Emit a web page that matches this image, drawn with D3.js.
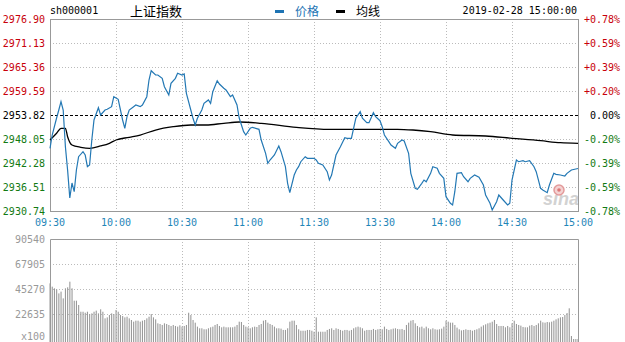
<!DOCTYPE html>
<html>
<head>
<meta charset="utf-8">
<script src="https://cdn.jsdelivr.net/npm/d3@7"></script>
<style>
  body { margin: 0; background: #fff; }
  svg { display: block; }
  text { font-family: "DejaVu Sans Mono", monospace; font-size: 10px; }
</style>
</head>
<body>
<svg id="chart" width="625" height="342"></svg>
<script>
// price minute offsets from 09:30 (0..240, lunch break removed)
let priceMin = [0,1,3,4,5,6,7,8,9,10,11,12,13,15,16,17,18,19,20,22,23,25,26,28,29,31,33,34,35,36,38,39,41,42,44,45,46,48,49,51,52,54,55,57,58,60,61,62,64,65,66,67,69,70,72,73,74,76,77,79,80,82,83,85,86,88,89,91,92,95,96,98,99,100,102,104,105,107,108,109,111,112,113,114,116,117,120,121,122,124,126,127,128,129,130,132,134,135,137,138,139,141,142,144,145,147,148,150,151,152,154,155,157,158,160,161,163,164,166,167,169,170,171,173,174,176,177,179,180,182,183,184,185,187,188,190,191,193,195,197,198,200,201,203,204,206,208,209,210,212,213,215,216,218,220,221,223,224,226,227,229,230,232,234,235,237,239,240]
let price = [2945.81,2949.01,2953.10,2955.02,2957.02,2955.02,2946.20,2940.60,2933.87,2937.47,2935.38,2940.60,2943.79,2945.00,2944.20,2941.39,2941.80,2947.81,2952.62,2955.57,2953.82,2955.02,2955.19,2955.82,2958.22,2957.59,2952.62,2950.62,2953.41,2955.02,2955.82,2956.22,2955.82,2956.22,2958.22,2962.23,2964.47,2963.44,2963.44,2962.64,2960.62,2958.63,2961.44,2962.64,2963.85,2963.44,2963.68,2959.04,2955.02,2953.03,2951.42,2953.03,2955.02,2956.63,2957.43,2956.63,2959.42,2962.07,2961.27,2960.24,2959.83,2958.22,2958.63,2956.22,2953.10,2949.81,2949.01,2950.62,2950.86,2950.38,2947.81,2944.61,2942.21,2943.00,2944.20,2946.37,2945.00,2941.39,2937.40,2935.14,2939.39,2940.60,2941.39,2942.59,2943.79,2943.41,2943.41,2943.00,2942.21,2941.80,2940.19,2938.19,2939.39,2941.80,2944.20,2946.20,2948.36,2948.22,2948.22,2950.62,2953.03,2954.61,2953.03,2951.97,2951.97,2954.37,2953.41,2952.45,2951.01,2949.01,2947.40,2946.61,2945.81,2947.02,2947.81,2947.57,2944.61,2939.80,2936.20,2935.96,2937.40,2938.19,2937.78,2939.80,2941.39,2941.01,2939.80,2938.60,2934.18,2932.59,2932.18,2935.38,2939.80,2939.95,2938.99,2937.78,2938.60,2939.40,2938.84,2936.99,2934.59,2932.59,2930.98,2932.98,2934.59,2933.38,2932.18,2932.59,2938.19,2943.00,2942.59,2942.83,2942.59,2942.83,2941.39,2940.19,2936.20,2935.79,2935.14,2936.99,2939.80,2939.56,2939.40,2939.16,2939.80,2940.60,2940.84,2940.96]

// average price line
let avgMin = [0,3,5,7,8,10,14,18,23,27,30,36,41,48,56,64,71,79,86,96,112,127,142,158,165,173,183,198,210,223,232,240]
let avgPrice = [2947.81,2949.42,2950.62,2950.62,2948.60,2946.61,2946.06,2945.81,2946.37,2947.02,2947.81,2948.46,2949.01,2950.21,2951.01,2951.42,2951.42,2951.83,2952.14,2951.83,2950.86,2950.38,2950.38,2950.38,2950.21,2949.81,2949.01,2948.77,2948.22,2947.64,2947.16,2947.02]

// volume per minute (x100)
let volume = [
  50400,47400,45900,45000,41300,42900,36800,45900,46800,51900,
  45900,34700,34700,30800,24700,24700,23800,24700,22600,23200,
  24700,25700,23200,26900,24700,18700,19600,21700,23200,22600,
  26300,24700,21700,20800,19600,20200,18700,17200,15700,16600,
  16600,15700,16600,17200,18700,20200,22600,19600,17800,14200,
  13600,12700,14200,13600,12700,11800,12700,11800,11200,12400,
  11200,11800,12700,23800,21700,17200,14800,11200,9700,9700,
  8800,8800,9700,10600,11200,12700,13600,11800,10600,11200,
  10600,10600,10600,10600,11200,12700,15700,15400,12700,11200,
  10600,9700,10600,11200,10900,12700,13600,16600,17200,14800,
  13600,12700,11200,9700,9700,9400,8200,8200,9700,15700,
  16600,16600,12700,8800,7500,7500,7500,8200,8200,7500,
  6600,19600,6600,6600,6600,6600,8200,9100,9700,8200,
  9700,9100,8200,7500,8200,8200,7500,8200,9700,10600,
  11200,10600,9700,7500,8200,8200,8200,9100,8200,8800,
  9100,8800,11200,9100,8200,8800,9400,9700,9100,8800,
  9100,8200,12700,14800,16600,17200,14200,11800,10600,11200,
  9700,11200,9700,8800,9700,8800,8500,8800,9400,11200,
  16600,15700,14800,14800,12700,10300,8800,7800,8200,8800,
  8200,8200,7500,8200,8800,9700,11200,12400,13300,14200,
  14800,15700,17200,13600,11800,11800,11800,10600,11800,10600,
  14200,16600,13600,12700,12100,10900,10600,10600,12100,12700,
  11800,12700,14200,16600,15100,14800,15400,15100,15700,16600,
  17800,18700,19600,19900,21700,23500,27800,2700,0,0,
  0
]

let prevClose = 2953.82
let priceTicks = [2976.90, 2971.13, 2965.36, 2959.59, 2953.82, 2948.05, 2942.28, 2936.51, 2930.74]
let pctTicks = ["+0.78%", "+0.59%", "+0.39%", "+0.20%", "0.00%", "-0.20%", "-0.39%", "-0.59%", "-0.78%"]
let timeTicks = ["09:30", "10:00", "10:30", "11:00", "11:30", "13:30", "14:00", "14:30", "15:00"]
let volTicks = [90540, 67905, 45270, 22635]

let left = 50, right = 578
let svg = d3.select("#chart")

let x = d3.scaleLinear().domain([0, 240]).range([left, right])
let y = d3.scaleLinear().domain([2930.74, 2976.90]).range([211, 19])
let yv = d3.scaleLinear().domain([0, 90540]).range([339, 239])
let xt = d3.scalePoint().domain(timeTicks).range([left, right])

let colorOf = v => v > prevClose + 0.001 ? "#c8000a" : (v < prevClose - 0.001 ? "#127a12" : "#000")
let cjk = "'Noto Sans CJK SC', sans-serif"

// ---- header
svg.append("text").attr("x", 50).attr("y", 14).text("sh000001")
svg.append("text").attr("x", 130).attr("y", 16)
  .style("font-family", cjk).style("font-size", "13px").text("上证指数")
svg.append("rect").attr("x", 275).attr("y", 10).attr("width", 9).attr("height", 3).attr("fill", "#1e74b4")
svg.append("text").attr("x", 295).attr("y", 16)
  .style("font-family", cjk).style("font-size", "12px").attr("fill", "#1e74b4").text("价格")
svg.append("rect").attr("x", 336).attr("y", 10).attr("width", 9).attr("height", 3).attr("fill", "#000")
svg.append("text").attr("x", 356).attr("y", 16)
  .style("font-family", cjk).style("font-size", "12px").text("均线")
svg.append("text").attr("x", 577).attr("y", 14).attr("text-anchor", "end").text("2019-02-28 15:00:00")

// ---- price grid
let g = svg.append("g")
g.selectAll(".vgrid").data(timeTicks.slice(1, -1)).enter().append("line")
  .attr("x1", d => xt(d) + 0.5).attr("x2", d => xt(d) + 0.5)
  .attr("y1", 19).attr("y2", 211)
  .attr("stroke", "#bbb").attr("stroke-dasharray", "1,2")
g.selectAll(".hgrid").data(priceTicks.slice(1, -1)).enter().append("line")
  .attr("x1", left).attr("x2", right)
  .attr("y1", d => Math.round(y(d)) + 0.5).attr("y2", d => Math.round(y(d)) + 0.5)
  .attr("stroke", d => d == prevClose ? "#000" : "#bbb")
  .attr("stroke-dasharray", d => d == prevClose ? "3,2" : "1,2")

// watermark
svg.append("text").attr("x", 543).attr("y", 205)
  .style("font-family", "'Liberation Sans', sans-serif").style("font-size", "18px")
  .style("font-weight", "bold").style("font-style", "italic")
  .attr("fill", "#d2d2d2").text("sina")
svg.append("circle").attr("cx", 559).attr("cy", 190).attr("r", 5)
  .attr("fill", "#f3d2d2").attr("stroke", "#e39a9a").attr("stroke-width", 1.5)
svg.append("circle").attr("cx", 559).attr("cy", 190).attr("r", 1.8).attr("fill", "#d77")

// frame
svg.append("rect").attr("x", left + 0.5).attr("y", 19.5).attr("width", right - left).attr("height", 192)
  .attr("fill", "none").attr("stroke", "#999")

// lines
let avgLine = d3.line().x(d => x(d[0])).y(d => y(d[1])).curve(d3.curveMonotoneX)
svg.append("path").datum(d3.zip(avgMin, avgPrice)).attr("d", avgLine)
  .attr("fill", "none").attr("stroke", "#000").attr("stroke-width", 1.3)

let priceLine = d3.line().x(d => x(d[0])).y(d => y(d[1]))
svg.append("path").datum(d3.zip(priceMin, price)).attr("d", priceLine)
  .attr("fill", "none").attr("stroke", "#2378b4").attr("stroke-width", 1.2)

// left and right labels
svg.selectAll(".plab").data(priceTicks).enter().append("text")
  .attr("x", 45).attr("y", d => y(d) + 3.5).attr("text-anchor", "end")
  .attr("fill", colorOf).text(d => d.toFixed(2))
svg.selectAll(".pct").data(pctTicks).enter().append("text")
  .attr("x", 620).attr("y", (d, i) => y(priceTicks[i]) + 3.5).attr("text-anchor", "end")
  .attr("fill", (d, i) => colorOf(priceTicks[i])).text(d => d)

// time labels
svg.selectAll(".tlab").data(timeTicks).enter().append("text")
  .attr("x", d => xt(d)).attr("y", 226).attr("text-anchor", "middle")
  .attr("fill", "#1f86b8").text(d => d)

// ---- volume panel
svg.selectAll(".vvg").data(timeTicks.slice(1, -1)).enter().append("line")
  .attr("x1", d => xt(d) + 0.5).attr("x2", d => xt(d) + 0.5)
  .attr("y1", 239).attr("y2", 342)
  .attr("stroke", "#bbb").attr("stroke-dasharray", "1,2")
svg.selectAll(".vhg").data(volTicks.slice(1)).enter().append("line")
  .attr("x1", left).attr("x2", right)
  .attr("y1", d => Math.round(yv(d)) + 0.5).attr("y2", d => Math.round(yv(d)) + 0.5)
  .attr("stroke", "#bbb").attr("stroke-dasharray", "1,2")

svg.selectAll(".bar").data(volume).enter().append("rect")
  .attr("x", (d, i) => x(i) - 0.5).attr("width", 1.1)
  .attr("y", d => yv(d)).attr("height", d => yv(0) - yv(d) + 4)
  .attr("fill", "#9a9a9a")

svg.append("path").attr("d", `M${left + 0.5},342V239.5H${right + 0.5}V342`)
  .attr("fill", "none").attr("stroke", "#999")

svg.selectAll(".vlab").data(volTicks).enter().append("text")
  .attr("x", 45).attr("y", d => yv(d) + 3.5).attr("text-anchor", "end")
  .attr("fill", "#999").text(d => d)
svg.append("text").attr("x", 45).attr("y", 340).attr("text-anchor", "end")
  .attr("fill", "#999").text("x100")
</script>
</body>
</html>
